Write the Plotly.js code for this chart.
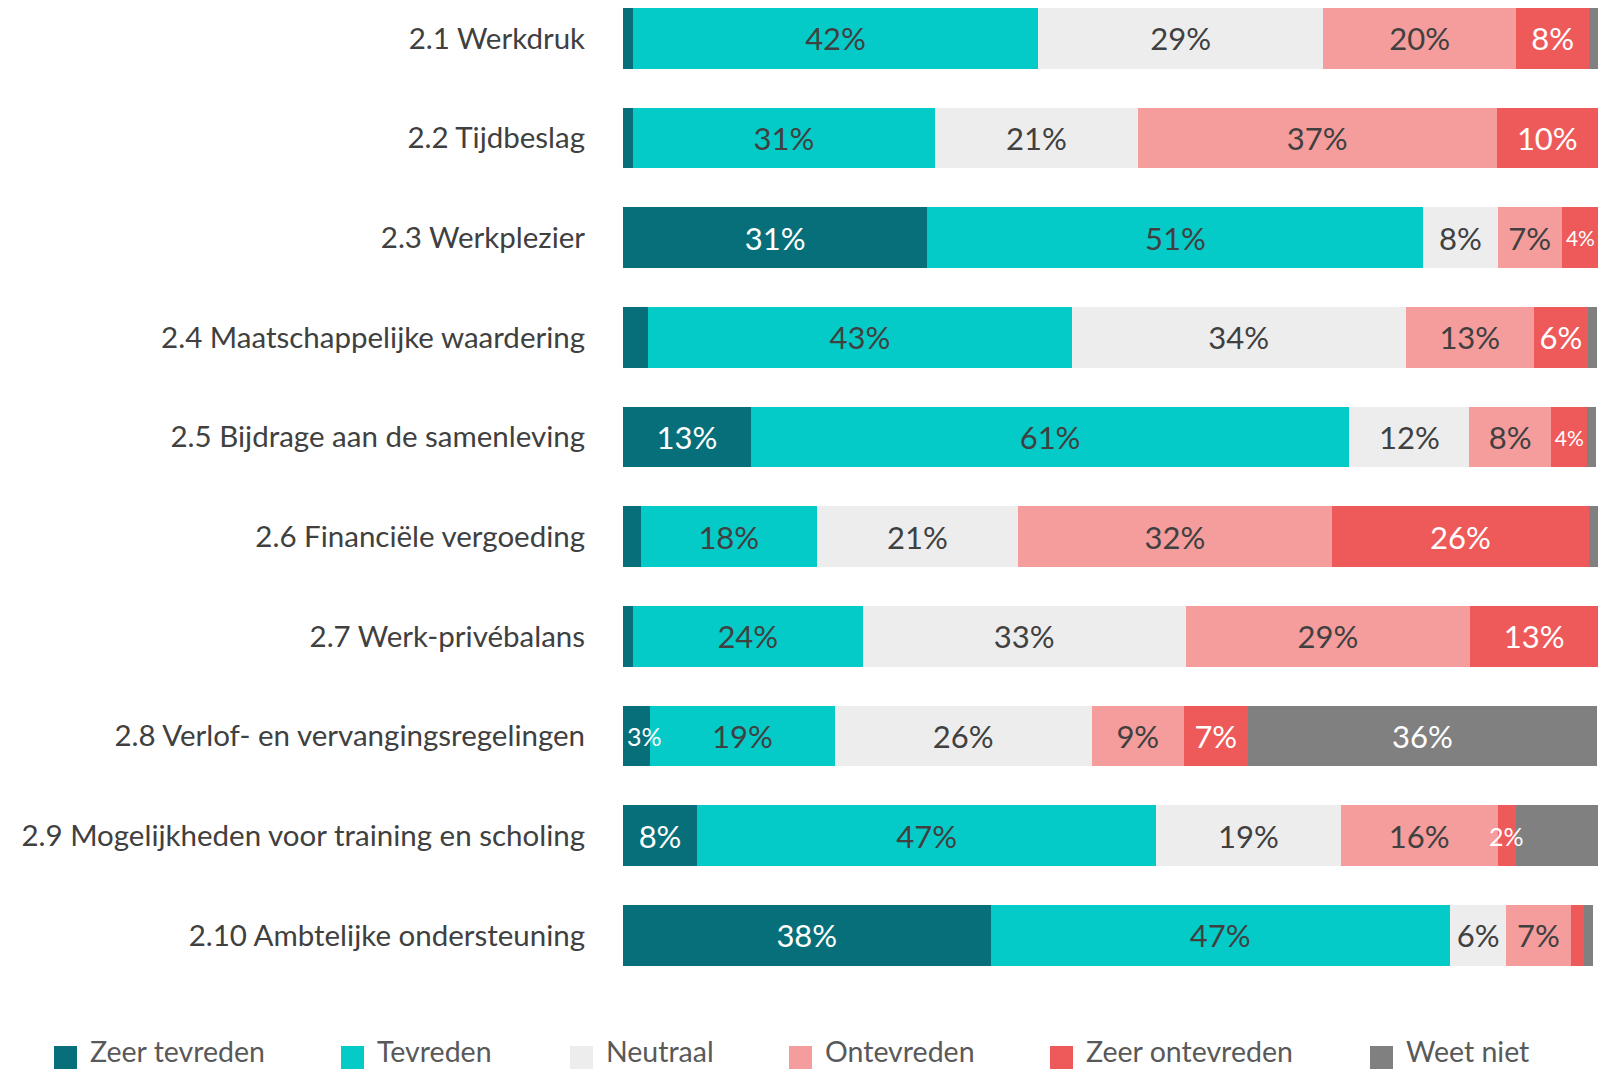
<!DOCTYPE html>
<html>
<head>
<meta charset="utf-8">
<script src="https://cdn.plot.ly/plotly-3.0.1.min.js"></script>
<style>html,body{margin:0;padding:0;background:#fff;}#chart{width:1606px;height:1070px;}</style>
</head>
<body>
<div id="chart"></div>
<script>
const categories = [
  "2.1 Werkdruk",
  "2.2 Tijdbeslag",
  "2.3 Werkplezier",
  "2.4 Maatschappelijke waardering",
  "2.5 Bijdrage aan de samenleving",
  "2.6 Financiële vergoeding",
  "2.7 Werk-privébalans",
  "2.8 Verlof- en vervangingsregelingen",
  "2.9 Mogelijkheden voor training en scholing",
  "2.10 Ambtelijke ondersteuning"
];
const seriesNames = ["Zeer tevreden", "Tevreden", "Neutraal", "Ontevreden", "Zeer ontevreden", "Weet niet"];
const zeerTevreden   = [1.0, 1.0, 31.2, 2.6, 13.1, 1.8, 1.0, 2.8, 7.6, 37.7];
const tevreden       = [41.6, 31.0, 50.9, 43.4, 61.4, 18.1, 23.6, 18.9, 47.1, 47.1];
const neutraal       = [29.2, 20.8, 7.6, 34.3, 12.3, 20.6, 33.1, 26.4, 18.9, 5.8];
const ontevreden     = [19.8, 36.8, 6.6, 13.1, 8.4, 32.2, 29.2, 9.4, 16.1, 6.6];
const zeerOntevreden = [7.5, 10.4, 3.8, 5.6, 3.7, 26.4, 13.1, 6.6, 1.9, 1.4];
const weetNiet       = [0.9, 0.0, 0.0, 0.9, 0.9, 0.9, 0.0, 35.8, 8.4, 0.9];

const seriesValues = [zeerTevreden, tevreden, neutraal, ontevreden, zeerOntevreden, weetNiet];
const colors = ["#066F7A", "#05CBC8", "#EDEDED", "#F49D9C", "#EE5A5A", "#808080"];
const textColors = ["#FFFFFF", "#404040", "#404040", "#404040", "#FFFFFF", "#FFFFFF"];
const minLabel = [2.7, 1.5, 1.5, 1.5, 1.5, 10];
const FONT = "Lato, 'Open Sans', sans-serif";

const showLabel = (v, i) => v >= minLabel[i];
const tiny = v => v < 3;

const traces = seriesValues.map((vals, i) => ({
  type: "bar",
  orientation: "h",
  name: seriesNames[i],
  y: categories,
  x: vals,
  marker: {color: colors[i], line: {width: 0}},
  text: vals.map(v => showLabel(v, i) && !tiny(v) ? Math.round(v) + "%" : ""),
  textposition: "inside",
  insidetextanchor: "middle",
  textangle: 0,
  constraintext: "none",
  textfont: {family: FONT, color: textColors[i], size: vals.map(v => v < 4.5 ? 21 : 31)},
  hoverinfo: "skip",
  showlegend: false
}));

// plot area geometry (pixels) for custom legend placement
const W = 1606, H = 1070, L = 623, R = 8, T = 0, B = 85;
const pw = W - L - R, ph = H - T - B;
const px = x => (x - L) / pw;
const py = y => (H - B - y) / ph;

const shapes = [];
const annotations = [];

// labels of very narrow segments drawn on top so they can overflow like the original
categories.forEach((c, r) => {
  let cum = 0;
  seriesValues.forEach((vals, i) => {
    const v = vals[r];
    if (showLabel(v, i) && tiny(v)) {
      const atStart = cum === 0;
      annotations.push({xref: "x", yref: "y", x: atStart ? 0 : cum + v / 2, y: c, showarrow: false,
        text: Math.round(v) + "%", xanchor: atStart ? "left" : "center", xshift: atStart ? 2 : 0,
        yanchor: "middle",
        font: {family: FONT, size: 25, color: textColors[i]}});
    }
    cum += v;
  });
});

const legendSquares = [54, 341, 570, 789, 1050, 1370];
seriesNames.forEach((n, i) => {
  const x0 = legendSquares[i];
  shapes.push({type: "rect", xref: "paper", yref: "paper",
    x0: px(x0), x1: px(x0 + 23), y0: py(1069), y1: py(1046),
    fillcolor: colors[i], line: {width: 0}});
  annotations.push({xref: "paper", yref: "paper", x: px(x0 + 34), y: py(1051),
    xanchor: "left", yanchor: "middle", showarrow: false, text: n,
    font: {family: FONT, size: 28.5, color: "#595959"}});
});

const layout = {
  width: W, height: H,
  margin: {l: L, r: R, t: T, b: B},
  barmode: "stack",
  bargap: 0.39,
  paper_bgcolor: "#FFFFFF",
  plot_bgcolor: "#FFFFFF",
  showlegend: false,
  xaxis: {range: [0, 100], visible: false, fixedrange: true},
  yaxis: {
    type: "category",
    range: [9.5, -0.386],
    showgrid: false, zeroline: false, showline: false,
    ticks: "outside", ticklen: 31, tickcolor: "rgba(0,0,0,0)",
    tickfont: {family: FONT, size: 29.5, color: "#404040"}
  },
  shapes: shapes,
  annotations: annotations,
  font: {family: FONT}
};

Plotly.newPlot("chart", traces, layout, {displayModeBar: false, staticPlot: true});
</script>
</body>
</html>
